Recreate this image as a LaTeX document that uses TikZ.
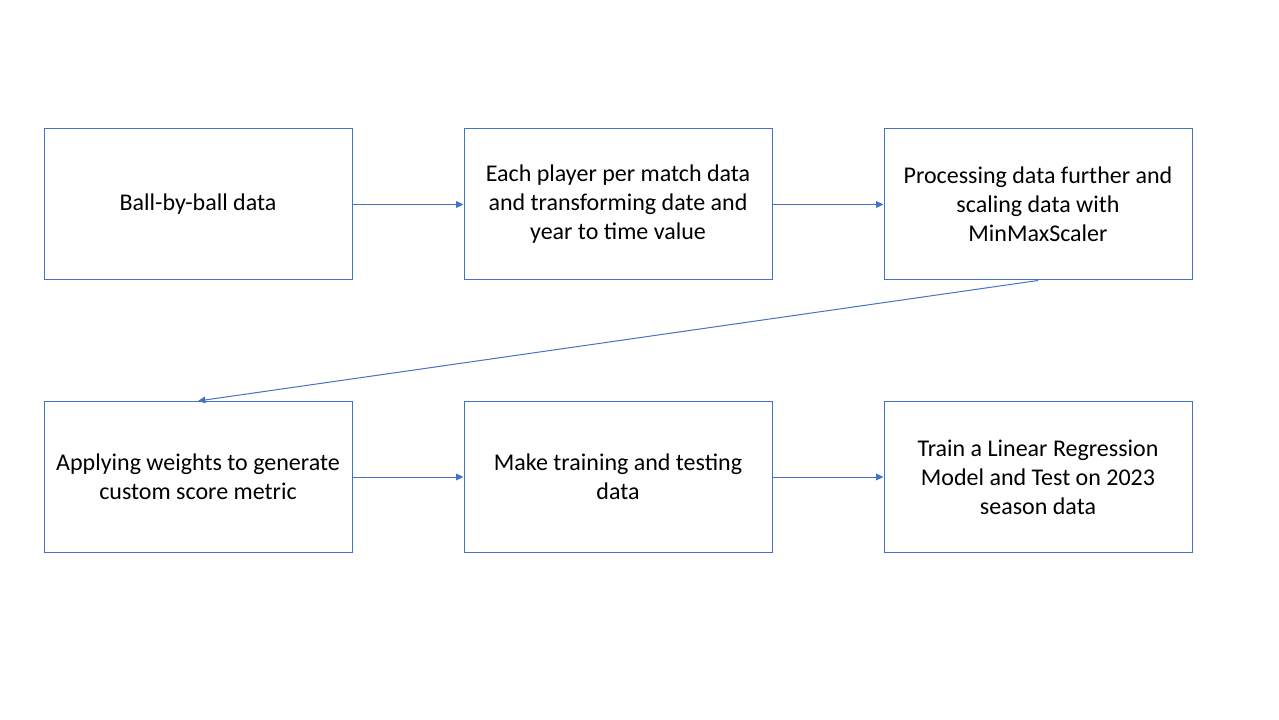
\documentclass[tikz,border=0pt]{standalone}
\usepackage{fontspec}
\setmainfont{Carlito}
\usetikzlibrary{arrows.meta}
\definecolor{obl}{HTML}{4472C4}
\begin{document}
\begin{tikzpicture}[x=0.75pt,y=-0.75pt,
  box/.style={draw=obl,line width=0.75pt,minimum width=231pt,minimum height=113.25pt,align=center,font=\fontsize{18}{21.8}\selectfont,inner sep=0pt},
  conn/.style={draw=obl,line width=0.75pt,-{Triangle[length=5.5pt,width=5pt]}}]
\useasboundingbox (0,0) rectangle (1279,720);
\node[box] (b1) at (198,204.5) {Ball-by-ball data};
\node[box] (b2) at (618,204.5) {Each player per match data\\and transforming date and\\year to time value};
\node[box] (b3) at (1038,204.5) {Processing data further and\\scaling data with\\MinMaxScaler};
\node[box] (b4) at (198,477) {Applying weights to generate\\custom score metric};
\node[box] (b5) at (618,477) {Make training and testing\\data};
\node[box] (b6) at (1038,477) {Train a Linear Regression\\Model and Test on 2023\\season data};
\draw[conn] (b1) -- (b2);
\draw[conn] (b2) -- (b3);
\draw[conn] (b3.south) -- (b4.north);
\draw[conn] (b4) -- (b5);
\draw[conn] (b5) -- (b6);
\end{tikzpicture}
\end{document}
